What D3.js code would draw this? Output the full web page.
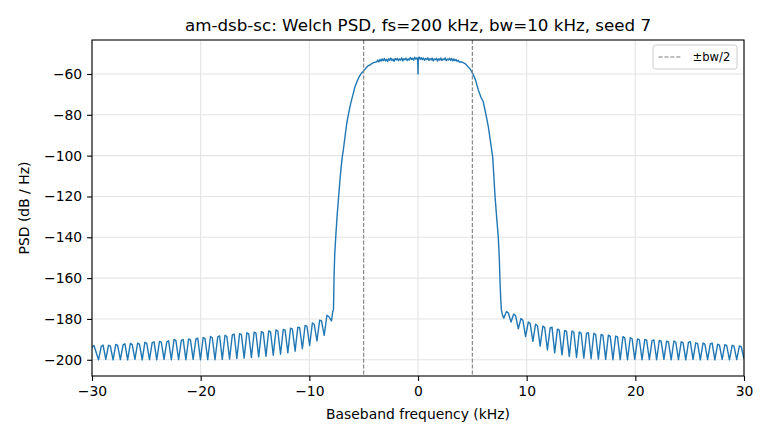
<!DOCTYPE html>
<html>
<head>
<meta charset="utf-8">
<script src="https://cdn.jsdelivr.net/npm/d3@7"></script>
<style>
body{margin:0;background:#fff}
text{font-family:"DejaVu Sans",sans-serif}
</style>
</head>
<body>
<svg id="chart" width="770" height="440"></svg>
<script>
// values
var titleText = "am-dsb-sc: Welch PSD, fs=200 kHz, bw=10 kHz, seed 7";
var xLabel = "Baseband frequency (kHz)";
var yLabel = "PSD (dB / Hz)";
var xTicks = [-30,-20,-10,0,10,20,30];
var yTicks = [-200,-180,-160,-140,-120,-100,-80,-60];
var bwEdges = [-5,5];
var legendLabel = "\u00b1bw/2";

var freqKHz = [
-30.00,-29.82,-29.40,-29.15,-28.98,-28.73,-28.48,-28.31,-28.06,-27.81,-27.64,-27.39,-27.14,-26.97,
-26.72,-26.47,-26.30,-26.05,-25.80,-25.63,-25.38,-25.13,-24.96,-24.71,-24.46,-24.29,-24.04,-23.79,
-23.62,-23.37,-23.12,-22.95,-22.70,-22.45,-22.28,-22.03,-21.78,-21.61,-21.36,-21.11,-20.94,-20.69,
-20.44,-20.27,-20.02,-19.77,-19.60,-19.35,-19.10,-18.93,-18.68,-18.43,-18.26,-18.01,-17.76,-17.59,
-17.34,-17.09,-16.92,-16.67,-16.42,-16.25,-16.00,-15.75,-15.58,-15.33,-15.08,-14.91,-14.66,-14.41,
-14.24,-13.99,-13.74,-13.57,-13.32,-13.07,-12.90,-12.65,-12.40,-12.23,-11.98,-11.73,-11.56,-11.31,
-11.06,-10.89,-10.64,-10.39,-10.22,-9.97,-9.72,-9.55,-9.30,-9.05,-8.88,-8.63,-8.38,-8.21,-7.96,
-7.85,-7.78,
-7.75,-7.72,-7.66,-7.57,-7.45,-7.33,-7.15,-6.98,-6.87,-6.70,-6.55,-6.41,-6.20,-6.00,-5.80,-5.60,
-5.40,-5.20,-5.03,-4.80,-4.60,-4.42,-4.20,-4.00,
-3.8,-3.7,-3.6,-3.5,-3.4,-3.3,-3.2,-3.1,-3.0,-2.9,-2.8,-2.7,-2.6,-2.5,-2.4,-2.3,-2.2,-2.1,-2.0,
-1.9,-1.8,-1.7,-1.6,-1.5,-1.4,-1.3,-1.2,-1.1,-1.0,-0.9,-0.8,-0.7,-0.6,-0.5,-0.4,-0.3,-0.2,-0.1,
-0.03,0.0,0.03,
0.1,0.2,0.3,0.4,0.5,0.6,0.7,0.8,0.9,1.0,1.1,1.2,1.3,1.4,1.5,1.6,1.7,1.8,1.9,
2.0,2.1,2.2,2.3,2.4,2.5,2.6,2.7,2.8,2.9,3.0,3.1,3.2,3.3,3.4,3.5,3.6,3.7,3.8,
4.00,4.20,4.40,4.60,4.80,4.94,5.10,5.30,5.55,5.80,6.00,6.20,6.35,6.47,6.60,6.78,6.87,6.98,
7.09,7.25,7.39,7.48,7.55,7.62,7.68,7.76,
7.89,8.14,8.31,8.56,8.81,8.98,9.23,9.48,9.65,9.90,10.15,10.32,10.57,10.82,10.99,11.24,11.49,11.66,
11.91,12.16,12.33,12.58,12.83,13.00,13.25,13.50,13.67,13.92,14.17,14.34,14.59,14.84,15.01,15.26,
15.51,15.68,15.93,16.18,16.35,16.60,16.85,17.02,17.27,17.52,17.69,17.94,18.19,18.36,18.61,18.86,
19.03,19.28,19.53,19.70,19.95,20.20,20.37,20.62,20.87,21.04,21.29,21.54,21.71,21.96,22.21,22.38,
22.63,22.88,23.05,23.30,23.55,23.72,23.97,24.22,24.39,24.64,24.89,25.06,25.31,25.56,25.73,25.98,
26.23,26.40,26.65,26.90,27.07,27.32,27.57,27.74,27.99,28.24,28.41,28.66,28.91,29.08,29.33,29.58,
29.75,30.00
];

var psdDb = [
-193.8,-193.0,-200.0,-193.4,-192.8,-199.8,-192.9,-193.3,-200.0,-192.5,-192.9,-199.9,-192.7,-192.2,
-200.0,-192.0,-192.6,-199.8,-191.9,-192.3,-200.0,-191.4,-192.0,-199.9,-191.6,-191.2,-200.0,-191.0,
-191.5,-199.8,-191.2,-190.7,-200.0,-190.0,-190.6,-199.9,-190.5,-190.1,-200.0,-189.8,-190.3,-199.8,
-189.9,-189.4,-200.0,-189.1,-189.6,-199.9,-188.6,-189.2,-200.0,-188.8,-188.3,-199.8,-188.0,-188.6,
-199.7,-187.9,-187.4,-199.4,-187.2,-187.7,-199.2,-186.8,-187.3,-198.9,-186.5,-187.0,-198.6,-186.2,
-186.7,-198.3,-185.9,-186.3,-197.8,-185.4,-185.9,-197.3,-185.1,-185.5,-196.6,-184.5,-185.0,-195.8,
-184.0,-184.3,-194.6,-183.2,-183.6,-193.0,-182.0,-182.6,-190.8,-180.6,-181.0,-188.0,-178.2,-178.8,-181.0,
-176.5,-175.5,
-168.0,-158.0,-148.0,-140.0,-130.0,-121.7,-110.0,-101.0,-97.2,-90.0,-84.0,-80.0,-74.5,-70.5,-66.2,-63.5,
-61.2,-59.6,-58.6,-57.2,-56.0,-55.6,-54.7,-54.3,
-54.0,-53.2,-54.1,-52.9,-53.7,-52.6,-53.5,-52.4,-53.6,-52.8,-53.9,-52.5,-53.3,-52.2,-53.4,-52.7,-53.8,-52.4,-53.1,
-52.3,-53.5,-52.6,-53.2,-52.1,-53.6,-52.5,-53.0,-52.2,-53.4,-52.6,-53.1,-51.9,-52.9,-52.3,-53.2,-51.8,-52.8,-52.1,
-52.6,-60.0,-52.2,
-51.7,-52.9,-52.0,-53.0,-52.2,-53.3,-52.4,-52.9,-52.1,-53.4,-52.5,-53.1,-52.2,-53.6,-52.6,-53.0,-52.3,-53.7,-52.5,
-53.2,-52.2,-53.4,-52.6,-53.0,-52.1,-53.5,-52.7,-53.1,-52.3,-53.3,-52.4,-53.6,-52.6,-53.5,-52.9,-53.8,-53.3,-54.2,
-54.0,-54.6,-55.2,-56.4,-57.5,-58.9,-60.5,-63.0,-67.8,-71.5,-73.5,-78.5,-82.5,-85.8,-90.5,-97.2,-100.5,-110.0,
-120.0,-131.0,-140.0,-150.0,-162.0,-171.0,-175.8,-177.8,
-179.6,-176.4,-177.0,-181.5,-177.6,-178.4,-184.8,-179.8,-180.6,-188.6,-181.5,-182.2,-191.0,-182.6,-183.3,-193.3,-183.5,-184.2,
-195.2,-184.4,-184.0,-196.6,-185.0,-185.5,-197.6,-185.6,-186.1,-198.3,-185.9,-186.5,-198.9,-186.4,-186.9,-199.2,
-187.1,-186.7,-199.5,-187.0,-187.6,-199.7,-187.6,-188.1,-199.8,-187.9,-188.5,-200.0,-188.4,-188.8,-199.9,-188.7,
-189.3,-200.0,-189.2,-189.7,-199.8,-189.8,-190.2,-200.0,-190.0,-190.5,-199.9,-190.6,-190.3,-200.0,-190.5,-191.0,
-199.8,-190.9,-191.3,-200.0,-190.8,-191.4,-199.9,-191.2,-191.6,-200.0,-191.5,-191.1,-199.8,-191.7,-192.1,-200.0,
-191.8,-192.3,-199.9,-192.2,-191.8,-200.0,-192.4,-192.8,-199.8,-192.6,-193.1,-200.0,-192.9,-193.3,-199.9,-193.2,
-193.7,-199.5
];

var W = 770, H = 440;
var margin = {top: 40, right: 26, bottom: 64, left: 92};
var iw = W - margin.left - margin.right;
var ih = H - margin.top - margin.bottom;

var svg = d3.select("#chart");
var g = svg.append("g").attr("transform", "translate(" + margin.left + "," + margin.top + ")");

var x = d3.scaleLinear().domain([-30, 30]).range([0, iw]);
var y = d3.scaleLinear().domain([-207.95, -43.35]).range([ih, 0]);

// grid
g.append("g").selectAll("line").data(xTicks).enter().append("line")
	.attr("x1", function(d){return x(d);}).attr("x2", function(d){return x(d);})
	.attr("y1", 0).attr("y2", ih)
	.attr("stroke", "#e4e4e4").attr("stroke-width", 1.1);
g.append("g").selectAll("line").data(yTicks).enter().append("line")
	.attr("x1", 0).attr("x2", iw)
	.attr("y1", function(d){return y(d);}).attr("y2", function(d){return y(d);})
	.attr("stroke", "#e4e4e4").attr("stroke-width", 1.1);

svg.append("defs").append("clipPath").attr("id", "clip")
	.append("rect").attr("width", iw).attr("height", ih);

var pts = freqKHz.map(function(f, i){return [f, psdDb[i]];});

var line = d3.line()
	.x(function(d){return x(d[0]);})
	.y(function(d){return y(d[1]);});

g.append("path")
	.datum(pts)
	.attr("clip-path", "url(#clip)")
	.attr("d", line)
	.attr("fill", "none")
	.attr("stroke", "#1f77b4")
	.attr("stroke-width", 1.4)
	.attr("stroke-linejoin", "round");

// bandwidth markers
g.append("g").selectAll("line").data(bwEdges).enter().append("line")
	.attr("x1", function(d){return x(d);}).attr("x2", function(d){return x(d);})
	.attr("y1", 0).attr("y2", ih)
	.attr("stroke", "#7f7f7f").attr("stroke-width", 1.1)
	.attr("stroke-dasharray", "4.1,1.8");

// axes
var xAxis = d3.axisBottom(x).tickValues(xTicks).tickSize(4.9).tickPadding(4.9).tickSizeOuter(0);
var yAxis = d3.axisLeft(y).tickValues(yTicks).tickSize(4.9).tickPadding(4.9).tickSizeOuter(0);

var gx = g.append("g").attr("transform", "translate(0," + ih + ")").call(xAxis);
var gy = g.append("g").call(yAxis);
[gx, gy].forEach(function(a){
	a.select(".domain").remove();
	a.selectAll(".tick line").attr("stroke", "#000").attr("stroke-width", 1.1);
	a.selectAll(".tick text").attr("fill", "#000").style("font-size", "13.9px")
		.style("font-family", "DejaVu Sans");
});

g.append("rect")
	.attr("width", iw).attr("height", ih)
	.attr("fill", "none").attr("stroke", "#000").attr("stroke-width", 1.1);

// legend
var lg = g.append("g").attr("transform", "translate(" + (iw - 91) + ",5)");
lg.append("rect")
	.attr("width", 84).attr("height", 24).attr("rx", 2.5)
	.attr("fill", "#fff").attr("fill-opacity", 0.8)
	.attr("stroke", "#cccccc").attr("stroke-width", 1);
lg.append("line")
	.attr("x1", 5.5).attr("x2", 28.5).attr("y1", 12).attr("y2", 12)
	.attr("stroke", "#7f7f7f").attr("stroke-width", 1.1)
	.attr("stroke-dasharray", "4.1,1.8");
lg.append("text")
	.attr("x", 39.5).attr("y", 16.2)
	.style("font-size", "11.6px")
	.text(legendLabel);

// titles
svg.append("text")
	.attr("x", margin.left + iw / 2).attr("y", 31)
	.attr("text-anchor", "middle")
	.style("font-size", "16.7px")
	.text(titleText);

svg.append("text")
	.attr("x", margin.left + iw / 2).attr("y", 419)
	.attr("text-anchor", "middle")
	.style("font-size", "13.9px")
	.text(xLabel);

svg.append("text")
	.attr("transform", "translate(29," + (margin.top + ih / 2) + ") rotate(-90)")
	.attr("text-anchor", "middle")
	.style("font-size", "13.9px")
	.text(yLabel);
</script>
</body>
</html>
